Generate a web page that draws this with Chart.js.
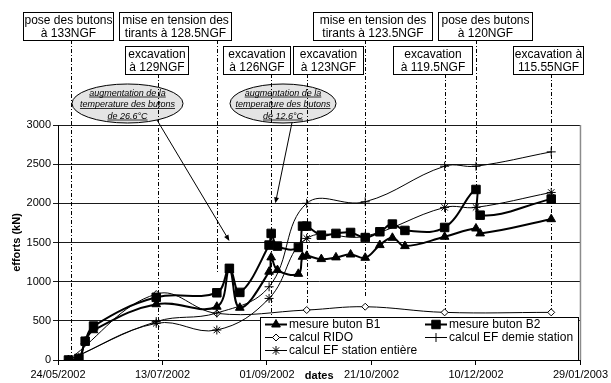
<!DOCTYPE html>
<html>
<head>
<meta charset="utf-8">
<script src="https://cdn.jsdelivr.net/npm/chart.js@4/dist/chart.umd.min.js"></script>
<style>
  html, body { margin: 0; padding: 0; background: #fff; }
  canvas { display: block; }
</style>
</head>
<body>
<canvas id="efforts" width="611" height="383"></canvas>
<script>
// ---- data -------------------------------------------------------------
const ORIGIN = '24/05/2002';
const xTickLabels = ['24/05/2002', '13/07/2002', '01/09/2002', '21/10/2002', '10/12/2002', '29/01/2003'];
const yTickValues = [0, 500, 1000, 1500, 2000, 2500, 3000];

// measured strut forces (kN)
const mesureDates = ['29/05/2002', '03/06/2002', '06/06/2002', '10/06/2002', '10/07/2002', '08/08/2002',
  '14/08/2002', '19/08/2002', '02/09/2002', '03/09/2002', '06/09/2002', '16/09/2002', '18/09/2002',
  '20/09/2002', '27/09/2002', '04/10/2002', '11/10/2002', '18/10/2002', '25/10/2002', '31/10/2002',
  '06/11/2002', '25/11/2002', '10/12/2002', '12/12/2002', '15/01/2003'];
const mesureB1 = [0, 20, 235, 380, 712, 680, 1150, 667, 1127, 1310, 1148, 1100, 1318, 1330, 1288, 1310,
  1347, 1305, 1467, 1560, 1454, 1573, 1679, 1616, 1798];
const mesureB2 = [0, 20, 240, 433, 800, 858, 1170, 863, 1467, 1616, 1454, 1437, 1709, 1709, 1594, 1616,
  1628, 1563, 1637, 1735, 1654, 1692, 2177, 1849, 2054];

// computed forces (kN)
const ridoDates = ['29/05/2002', '10/07/2002', '08/08/2002', '20/09/2002', '18/10/2002', '25/11/2002', '15/01/2003'];
const calculRido = [0, 842, 595, 638, 680, 608, 608];
const efDates = ['29/05/2002', '10/07/2002', '08/08/2002', '02/09/2002', '20/09/2002', '18/10/2002',
  '25/11/2002', '10/12/2002', '15/01/2003'];
const calculEfDemie = [0, 490, 600, 935, 2000, 2020, 2474, 2474, 2657];
const calculEfEntiere = [0, 468, 383, 786, 1552, 1580, 1948, 1948, 2139];

// construction phases
const phaseDates = ['30/05/2002', '11/07/2002', '08/08/2002', '03/09/2002', '20/09/2002', '18/10/2002',
  '25/11/2002', '10/12/2002', '15/01/2003'];
const phaseLabels = [
  ['pose des butons', 'à 133NGF'],
  ['excavation', 'à 129NGF'],
  ['mise en tension des', 'tirants à 128.5NGF'],
  ['excavation', 'à 126NGF'],
  ['excavation', 'à 123NGF'],
  ['mise en tension des', 'tirants à 123.5NGF'],
  ['excavation', 'à 119.5NGF'],
  ['pose des butons', 'à 120NGF'],
  ['excavation à', '115.55NGF']
];
const phaseLineEnds = [0, 0, 1110, 550, 700, 810, 620, 2170, 620];   // kN where each marker line stops

const tempNotes = [
  ['augmentation de la', 'temperature des butons', 'de 26.6°C'],
  ['augmentation de la', 'temperature des butons', 'de 12.6°C']
];
const tempTargetDates = ['14/08/2002', '05/09/2002'];
const tempTargetValues = [1520, 2000];

// ---- helpers ------------------------------------------------------------
const DAY = 86400000;
function toUTC(s) { const [d, m, y] = s.split('/').map(Number); return Date.UTC(y, m - 1, d); }
function toDay(s) { return (toUTC(s) - toUTC(ORIGIN)) / DAY; }
function dayLabel(v) {
  const t = new Date(toUTC(ORIGIN) + Math.round(v) * DAY);
  const p = n => String(n).padStart(2, '0');
  return p(t.getUTCDate()) + '/' + p(t.getUTCMonth() + 1) + '/' + t.getUTCFullYear();
}
function series(dates, vals) { return dates.map((d, i) => ({ x: toDay(d), y: vals[i] })); }

const FONT = '"Liberation Sans", Arial, Helvetica, sans-serif';

// ---- layout of the overlay drawings (pixels) ---------------------------
const boxLayout = [   // left, right, top for each phase label
  [23, 113, 12], [125, 188, 46], [119, 231, 12], [223, 290, 46], [293, 363, 46],
  [313, 432, 12], [393, 472, 46], [438, 532, 12], [513, 583, 46]
];
const BOX_H = 28;
const noteEllipses = [   // cx, cy, rx, ry, arrow start x, arrow start y
  [127.5, 103.5, 55.5, 19.5, 157, 120],
  [283, 103.5, 53, 19.5, 292, 122.5]
];

function drawMarker(ctx, style, r, x, y, fill) {
  ctx.save();
  ctx.strokeStyle = '#000';
  ctx.fillStyle = fill;
  ctx.lineWidth = 1;
  if (Chart.helpers && Chart.helpers.drawPoint) {
    Chart.helpers.drawPoint(ctx, { pointStyle: style, radius: r, rotation: 0, borderWidth: 1 }, x, y);
  }
  ctx.restore();
}

const overlay = {
  id: 'overlay',
  beforeDatasetsDraw(chart) {
    const { ctx, scales: { x, y } } = chart;
    ctx.save();
    // temperature notes (ellipses)
    noteEllipses.forEach((e, i) => {
      ctx.beginPath();
      ctx.ellipse(e[0], e[1], e[2], e[3], 0, 0, Math.PI * 2);
      ctx.fillStyle = '#e4e4e4';
      ctx.fill();
      ctx.lineWidth = 1;
      ctx.strokeStyle = '#000';
      ctx.stroke();
      ctx.font = 'italic 9px ' + FONT;
      ctx.fillStyle = '#000';
      ctx.textAlign = 'center';
      ctx.textBaseline = 'alphabetic';
      tempNotes[i].forEach((t, k) => {
        const ty = e[1] - 8 + k * 11.5;
        ctx.fillText(t, e[0], ty);
        const w = ctx.measureText(t).width;
        ctx.beginPath();
        ctx.moveTo(e[0] - w / 2, ty + 1.5);
        ctx.lineTo(e[0] + w / 2, ty + 1.5);
        ctx.lineWidth = 0.8;
        ctx.stroke();
      });
    });
    // phase marker lines
    ctx.strokeStyle = '#000';
    ctx.lineWidth = 1;
    ctx.setLineDash([4, 2, 1, 2]);
    phaseDates.forEach((d, i) => {
      const px = Math.round(x.getPixelForValue(toDay(d))) + 0.5;
      const top = boxLayout[i][2] + BOX_H;
      const bottom = y.getPixelForValue(phaseLineEnds[i]);
      ctx.beginPath();
      ctx.moveTo(px, top);
      ctx.lineTo(px, bottom);
      ctx.stroke();
    });
    ctx.setLineDash([]);
    // right border of the plot area
    ctx.strokeStyle = '#8c8c8c';
    ctx.lineWidth = 1.5;
    ctx.beginPath();
    ctx.moveTo(chart.chartArea.right, chart.chartArea.top);
    ctx.lineTo(chart.chartArea.right, chart.chartArea.bottom);
    ctx.stroke();
    ctx.restore();
  },
  afterDraw(chart) {
    const { ctx, scales: { x, y } } = chart;
    ctx.save();
    // phase label boxes
    ctx.font = '12px ' + FONT;
    ctx.textAlign = 'center';
    ctx.textBaseline = 'middle';
    phaseLabels.forEach((lines, i) => {
      const [l, r, t] = boxLayout[i];
      ctx.fillStyle = '#fff';
      ctx.fillRect(l, t, r - l, BOX_H);
      ctx.strokeStyle = '#000';
      ctx.lineWidth = 1;
      ctx.strokeRect(l + 0.5, t + 0.5, r - l, BOX_H);
      ctx.fillStyle = '#000';
      lines.forEach((s, k) => ctx.fillText(s, (l + r) / 2 + 0.5, t + 8.5 + k * 13.5));
    });
    // arrows from the notes to the curves
    noteEllipses.forEach((e, i) => {
      const tx = x.getPixelForValue(toDay(tempTargetDates[i]));
      const ty = y.getPixelForValue(tempTargetValues[i]);
      const ang = Math.atan2(ty - e[5], tx - e[4]);
      ctx.strokeStyle = '#000';
      ctx.fillStyle = '#000';
      ctx.lineWidth = 1;
      ctx.beginPath();
      ctx.moveTo(e[4], e[5]);
      ctx.lineTo(tx - Math.cos(ang) * 3, ty - Math.sin(ang) * 3);
      ctx.stroke();
      ctx.beginPath();
      ctx.moveTo(tx, ty);
      ctx.lineTo(tx - Math.cos(ang) * 6 - Math.sin(ang) * 2.5, ty - Math.sin(ang) * 6 + Math.cos(ang) * 2.5);
      ctx.lineTo(tx - Math.cos(ang) * 6 + Math.sin(ang) * 2.5, ty - Math.sin(ang) * 6 - Math.cos(ang) * 2.5);
      ctx.closePath();
      ctx.fill();
    });
    // legend
    const lx = 260, ly = 317, lw = 318, lh = 43;
    ctx.fillStyle = '#fff';
    ctx.fillRect(lx, ly, lw, lh);
    ctx.strokeStyle = '#000';
    ctx.lineWidth = 1;
    ctx.strokeRect(lx + 0.5, ly + 0.5, lw, lh);
    const cols = [265, 425];
    const rows = [324.5, 337.5, 350.5];
    chart.data.datasets.forEach((ds, i) => {
      const cx = cols[i % 2], cy = rows[Math.floor(i / 2)];
      ctx.strokeStyle = '#000';
      ctx.lineWidth = ds.borderWidth;
      ctx.beginPath();
      ctx.moveTo(cx, cy);
      ctx.lineTo(cx + 22, cy);
      ctx.stroke();
      drawMarker(ctx, ds.pointStyle, ds.pointRadius, cx + 11, cy, ds.pointBackgroundColor);
      ctx.fillStyle = '#000';
      ctx.font = '12px ' + FONT;
      ctx.textAlign = 'left';
      ctx.textBaseline = 'middle';
      ctx.fillText(ds.label, cx + 24, cy + 0.5);
    });
    ctx.restore();
  }
};

new Chart(document.getElementById('efforts'), {
  type: 'line',
  data: {
    datasets: [
      { label: 'mesure buton B1', data: series(mesureDates, mesureB1), borderColor: '#000', borderWidth: 2,
        pointStyle: 'triangle', pointRadius: 5, pointBackgroundColor: '#000', pointBorderColor: '#000',
        pointBorderWidth: 1, tension: 0.4, order: 1 },
      { label: 'mesure buton B2', data: series(mesureDates, mesureB2), borderColor: '#000', borderWidth: 2,
        pointStyle: 'rect', pointRadius: 6, pointBackgroundColor: '#000', pointBorderColor: '#000',
        pointBorderWidth: 1, tension: 0.4, order: 0 },
      { label: 'calcul RIDO', data: series(ridoDates, calculRido), borderColor: '#000', borderWidth: 1,
        pointStyle: 'rectRot', pointRadius: 3.5, pointBackgroundColor: '#fff', pointBorderColor: '#000',
        pointBorderWidth: 1, tension: 0.4, order: 4 },
      { label: 'calcul EF demie station', data: series(efDates, calculEfDemie), borderColor: '#000', borderWidth: 1,
        pointStyle: 'cross', pointRadius: 4.5, pointBackgroundColor: '#000', pointBorderColor: '#000',
        pointBorderWidth: 1, tension: 0.4, order: 3 },
      { label: 'calcul EF station entière', data: series(efDates, calculEfEntiere), borderColor: '#000', borderWidth: 1,
        pointStyle: 'star', pointRadius: 4.5, pointBackgroundColor: '#000', pointBorderColor: '#000',
        pointBorderWidth: 1, tension: 0.4, order: 2 }
    ]
  },
  options: {
    responsive: false,
    animation: false,
    devicePixelRatio: 1,
    events: [],
    layout: { padding: { top: 125, right: 28, left: 0, bottom: 0 } },
    plugins: { legend: { display: false }, tooltip: { enabled: false } },
    scales: {
      x: {
        type: 'linear',
        min: toDay(xTickLabels[0]),
        max: toDay(xTickLabels[xTickLabels.length - 1]),
        afterBuildTicks: s => { s.ticks = xTickLabels.map(l => ({ value: toDay(l) })); },
        afterFit: s => { s.height = 23; },
        ticks: { callback: v => dayLabel(v), color: '#000', font: { family: FONT, size: 11 },
          maxRotation: 0, autoSkip: false, padding: 3 },
        grid: { drawOnChartArea: false, color: '#000', tickLength: 5 },
        border: { color: '#000', width: 1 },
        title: { display: true, text: 'dates', color: '#000', font: { family: FONT, size: 11, weight: 'bold' }, padding: 0 }
      },
      y: {
        min: yTickValues[0],
        max: yTickValues[yTickValues.length - 1],
        afterBuildTicks: s => { s.ticks = yTickValues.map(v => ({ value: v })); },
        afterFit: s => { s.width = 58; },
        ticks: { callback: v => String(v), color: '#000', font: { family: FONT, size: 11 }, padding: 2 },
        grid: { color: '#1a1a1a', tickLength: 5 },
        border: { color: '#000', width: 1 },
        title: { display: true, text: 'efforts (kN)', color: '#000', font: { family: FONT, size: 11, weight: 'bold' }, padding: 10 }
      }
    }
  },
  plugins: [overlay]
});
</script>
</body>
</html>
